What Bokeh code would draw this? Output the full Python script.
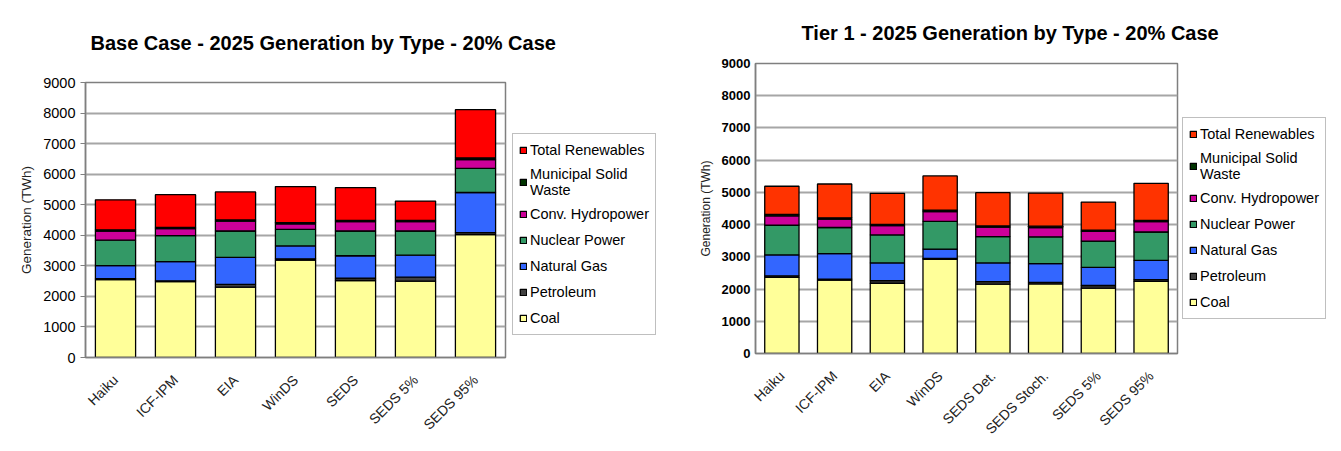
from math import pi
from bokeh.plotting import figure
from bokeh.layouts import row, column
from bokeh.models import (Range1d, FactorRange, FixedTicker, Legend, LegendItem)
from bokeh.embed import file_html
from bokeh.resources import INLINE

# ---------------- data ----------------
types = ["Coal", "Petroleum", "Natural Gas", "Nuclear Power",
         "Conv. Hydropower", "Municipal Solid\nWaste", "Total Renewables"]
keys = ["coal", "petroleum", "gas", "nuclear", "hydro", "msw", "renew"]

base_cats = ["Haiku", "ICF-IPM", "EIA", "WinDS", "SEDS", "SEDS 5%", "SEDS 95%"]
base_coal = [2550, 2480, 2300, 3190, 2520, 2500, 4020]
base_petroleum = [30, 30, 90, 40, 80, 130, 70]
base_gas = [430, 630, 890, 420, 730, 720, 1310]
base_nuclear = [830, 850, 860, 540, 810, 790, 790]
base_hydro = [300, 230, 320, 180, 310, 310, 290]
base_msw = [40, 40, 40, 40, 40, 40, 50]
base_renew = [980, 1070, 920, 1185, 1070, 630, 1580]

t1_cats = ["Haiku", "ICF-IPM", "EIA", "WinDS", "SEDS Det.", "SEDS Stoch.",
           "SEDS 5%", "SEDS 95%"]
t1_coal = [2360, 2280, 2180, 2920, 2150, 2160, 2030, 2240]
t1_petroleum = [50, 30, 80, 30, 80, 50, 80, 50]
t1_gas = [650, 790, 550, 290, 580, 580, 560, 600]
t1_nuclear = [920, 810, 870, 860, 820, 830, 820, 880]
t1_hydro = [290, 260, 290, 300, 290, 290, 300, 320]
t1_msw = [50, 40, 40, 50, 40, 40, 40, 40]
t1_renew = [870, 1050, 960, 1060, 1030, 1030, 870, 1150]

y_ticks = [0, 1000, 2000, 3000, 4000, 5000, 6000, 7000, 8000, 9000]

FONT = "Liberation Sans"


def make_chart(title, cats, series, colors, bar_width, fw, fh,
               mb_left, mb_top, mb_right, mb_bottom, title_offset,
               title_standoff, legend_loc, tick_bold, tick_size, tick_out,
               ylab_size):
    data = {"cat": cats}
    for k, v in zip(keys, series):
        data[k] = v
    p = figure(x_range=FactorRange(*cats, range_padding=0),
               y_range=Range1d(0, 9000),
               frame_width=fw, frame_height=fh,
               min_border_left=mb_left, min_border_top=mb_top,
               min_border_right=mb_right, min_border_bottom=mb_bottom,
               output_backend="svg", toolbar_location=None, title=title)
    p.title.text_font = FONT
    p.title.text_font_size = "20px"
    p.title.text_font_style = "bold"
    p.title.text_color = "black"
    p.title.align = "left"
    p.title.offset = title_offset
    p.title.standoff = title_standoff

    rs = p.vbar_stack(keys, x="cat", width=bar_width, source=data,
                      color=colors, line_color="black", line_width=1.3)

    p.outline_line_color = "#7f7f7f"
    p.outline_line_width = 1.5
    p.xgrid.grid_line_color = None
    p.ygrid.grid_line_color = "#a6a6a6"
    p.ygrid.grid_line_width = 2
    p.ygrid.ticker = FixedTicker(ticks=y_ticks)

    p.yaxis.ticker = FixedTicker(ticks=y_ticks)
    p.yaxis.axis_line_color = "#7f7f7f"
    p.yaxis.axis_line_width = 1.5
    p.yaxis.major_tick_line_color = "#7f7f7f"
    p.yaxis.major_tick_out = tick_out
    p.yaxis.major_tick_in = 0
    p.yaxis.minor_tick_line_color = None
    p.yaxis.major_label_text_font = FONT
    p.yaxis.major_label_text_font_size = tick_size
    p.yaxis.major_label_text_font_style = tick_bold
    p.yaxis.major_label_text_color = "black"
    p.yaxis.axis_label = "Generation (TWh)"
    p.yaxis.axis_label_text_font = FONT
    p.yaxis.axis_label_text_font_size = ylab_size
    p.yaxis.axis_label_text_font_style = "normal"
    p.yaxis.axis_label_text_color = "#222222"
    p.yaxis.axis_label_standoff = 6

    p.xaxis.axis_line_color = "#7f7f7f"
    p.xaxis.axis_line_width = 1.5
    p.xaxis.major_tick_line_color = None
    p.xaxis.minor_tick_line_color = None
    p.xaxis.major_label_orientation = pi / 4
    p.xaxis.major_label_text_font = FONT
    p.xaxis.major_label_text_font_size = "14px"
    p.xaxis.major_label_text_color = "#222222"
    p.xaxis.major_label_standoff = 14

    items = [LegendItem(label=t, renderers=[r]) for t, r in zip(types, rs)]
    items = items[::-1]
    leg = Legend(items=items, location=legend_loc, ncols=1)
    leg.margin = 0
    leg.padding = 6
    leg.spacing = 6
    leg.label_height = 20
    leg.glyph_width = 8
    leg.glyph_height = 8
    leg.label_standoff = 3
    leg.label_text_font = FONT
    leg.label_text_font_size = "14.5px"
    leg.label_text_color = "black"
    leg.border_line_color = "#7f7f7f"
    leg.border_line_width = 1.5
    leg.background_fill_color = "white"
    p.add_layout(leg, "right")
    return p


base_colors = ["#FFFF99", "#404040", "#3366FF", "#339966", "#CC0099",
               "#003300", "#FF0000"]
t1_colors = ["#FFFF99", "#404040", "#3366FF", "#339966", "#CC0099",
             "#003300", "#FF3300"]

left = make_chart("Base Case - 2025 Generation by Type - 20% Case", base_cats,
                  [base_coal, base_petroleum, base_gas, base_nuclear,
                   base_hydro, base_msw, base_renew],
                  base_colors, 0.67, 420, 275, 85, 82, 167, 88, 5, 58,
                  (7, 22), "normal", "14.5px", 5, "13.5px")
right = make_chart("Tier 1 - 2025 Generation by Type - 20% Case", t1_cats,
                   [t1_coal, t1_petroleum, t1_gas, t1_nuclear, t1_hydro,
                    t1_msw, t1_renew],
                   t1_colors, 0.65, 432, 294, 83, 63, 154, 88, 46, 39,
                   (5, 34), "bold", "13px", 0, "12px")

left_box = column(left)
right_box = column(right, styles={"position": "absolute", "left": "672px",
                                  "top": "0px"})
layout = row(left_box, right_box, spacing=0)
open("out.html", "w").write(file_html(layout, INLINE))
